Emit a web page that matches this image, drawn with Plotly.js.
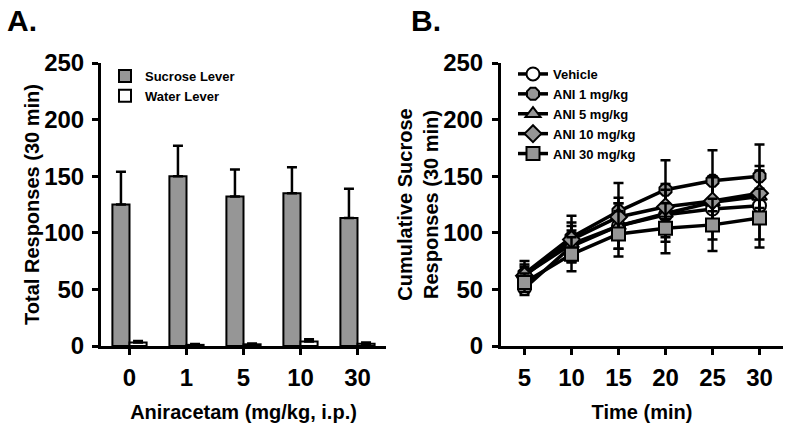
<!DOCTYPE html>
<html><head><meta charset="utf-8">
<script src="https://cdn.plot.ly/plotly-3.0.1.min.js"></script>
<style>html,body{margin:0;padding:0;background:#fff}</style>
</head><body><div id="chart" style="width:791px;height:431px"></div>
<script>
// Panel A data
const doses = ['0', '1', '5', '10', '30'];
const sucroseMean = [125, 150, 132, 135, 113];
const sucroseSEM = [29, 27, 24, 23, 26];
const waterMean = [3, 1, 1.5, 4, 2];
const waterSEM = [1.5, 0.8, 0.8, 2, 1];

// Panel B data
const timePoints = [5, 10, 15, 20, 25, 30];
const vehicle = [51, 88, 106, 116, 121, 124];
const vehicleSEM = [6, 14, 20, 24, 27, 30];
const ani1 = [64, 96, 119, 138, 146, 150];
const ani1SEM = [11, 19, 25, 26, 27, 28];
const ani5 = [63, 90, 106, 117, 127, 132];
const ani5SEM = [9, 16, 20, 21, 22, 23];
const ani10 = [62, 94, 114, 123, 128, 135];
const ani10SEM = [8, 15, 17, 20, 22, 24];
const ani30 = [56, 81, 99, 104, 107, 113];
const ani30SEM = [8, 15, 20, 22, 23, 26];

const FONT = '"Liberation Sans", Arial, sans-serif';
const GRAY = '#969696';
const zeros = doses.map(() => 0);

const traces = [
  {type: 'bar', name: 'Sucrose Lever', x: doses, y: sucroseMean, xaxis: 'x', yaxis: 'y',
   marker: {color: GRAY, line: {color: '#000', width: 2}},
   error_y: {type: 'data', symmetric: false, array: sucroseSEM, arrayminus: zeros, color: '#000', thickness: 2.5, width: 5},
   legend: 'legend'},
  {type: 'bar', name: 'Water Lever', x: doses, y: waterMean, xaxis: 'x', yaxis: 'y',
   marker: {color: '#fff', line: {color: '#000', width: 2}},
   error_y: {type: 'data', symmetric: false, array: waterSEM, arrayminus: zeros, color: '#000', thickness: 2.5, width: 5},
   legend: 'legend'}
];

const series = [
  {name: 'Vehicle', y: vehicle, e: vehicleSEM, symbol: 'circle', fill: '#fff'},
  {name: 'ANI 1 mg/kg', y: ani1, e: ani1SEM, symbol: 'octagon', fill: GRAY},
  {name: 'ANI 5 mg/kg', y: ani5, e: ani5SEM, symbol: 'triangle-up', fill: GRAY},
  {name: 'ANI 10 mg/kg', y: ani10, e: ani10SEM, symbol: 'diamond', fill: GRAY},
  {name: 'ANI 30 mg/kg', y: ani30, e: ani30SEM, symbol: 'square', fill: GRAY}
];
series.forEach(s => traces.push({
  type: 'scatter', mode: 'lines+markers', name: s.name, x: timePoints, y: s.y,
  xaxis: 'x2', yaxis: 'y2', legend: 'legend2',
  line: {color: '#000', width: 3.5},
  marker: {symbol: s.symbol, size: 13, color: s.fill, line: {color: '#000', width: 2}},
  error_y: {type: 'data', array: s.e, color: '#000', thickness: 2.5, width: 5}
}));

const tickFont = {family: FONT, size: 24, color: '#000', weight: 700};
const titleFont = {family: FONT, size: 20, color: '#000', weight: 700};
const yDom = [85 / 431, 368 / 431];
const axisCommon = {showline: true, linecolor: '#000', linewidth: 3, ticks: 'outside', ticklen: 6,
  tickwidth: 3, tickcolor: '#000', showgrid: false, zeroline: false, tickfont: tickFont, fixedrange: true};

const layout = {
  width: 791, height: 431,
  margin: {l: 0, r: 0, t: 0, b: 0},
  paper_bgcolor: '#fff', plot_bgcolor: '#fff',
  font: {family: FONT, color: '#000'},
  barmode: 'group', bargap: 0.4, bargroupgap: 0,
  xaxis: Object.assign({}, axisCommon, {domain: [101 / 791, 386 / 791], anchor: 'y', type: 'category',
    range: [-0.5, 4.5], ticklabelstandoff: 2,
    title: {text: 'Aniracetam (mg/kg, i.p.)', font: titleFont, standoff: 16}}),
  yaxis: Object.assign({}, axisCommon, {domain: yDom, anchor: 'x', range: [0, 250], tickvals: [0, 50, 100, 150, 200, 250],
    ticklabelstandoff: 3,
    title: {text: 'Total Responses (30 min)', font: titleFont, standoff: 0}}),
  xaxis2: Object.assign({}, axisCommon, {domain: [501 / 791, 783 / 791], anchor: 'y2',
    range: [2.5, 32.5], tickvals: timePoints, ticklabelstandoff: 2,
    title: {text: 'Time (min)', font: titleFont, standoff: 16}}),
  yaxis2: Object.assign({}, axisCommon, {domain: yDom, anchor: 'x2', range: [0, 250], tickvals: [0, 50, 100, 150, 200, 250],
    ticklabelstandoff: 4,
    title: {text: 'Cumulative Sucrose<br>Responses (30 min)', font: titleFont, standoff: 0}}),
  showlegend: true,
  legend: {x: 105 / 791, y: 1 - 61 / 431, xanchor: 'left', yanchor: 'top', bgcolor: 'rgba(0,0,0,0)',
    font: {family: FONT, size: 13, color: '#000', weight: 700}, tracegroupgap: 0},
  legend2: {x: 513 / 791, y: 1 - 59 / 431, xanchor: 'left', yanchor: 'top', bgcolor: 'rgba(0,0,0,0)',
    font: {family: FONT, size: 13, color: '#000', weight: 700}, tracegroupgap: 0},
  annotations: [
    {text: 'A.', xref: 'paper', yref: 'paper', x: 5 / 791, y: 1 - 20 / 431, xanchor: 'left', yanchor: 'middle',
     showarrow: false, font: {family: FONT, size: 30, color: '#000', weight: 700}},
    {text: 'B.', xref: 'paper', yref: 'paper', x: 409 / 791, y: 1 - 20 / 431, xanchor: 'left', yanchor: 'middle',
     showarrow: false, font: {family: FONT, size: 30, color: '#000', weight: 700}}
  ]
};

Plotly.newPlot('chart', traces, layout, {displayModeBar: false, staticPlot: true});
</script></body></html>
